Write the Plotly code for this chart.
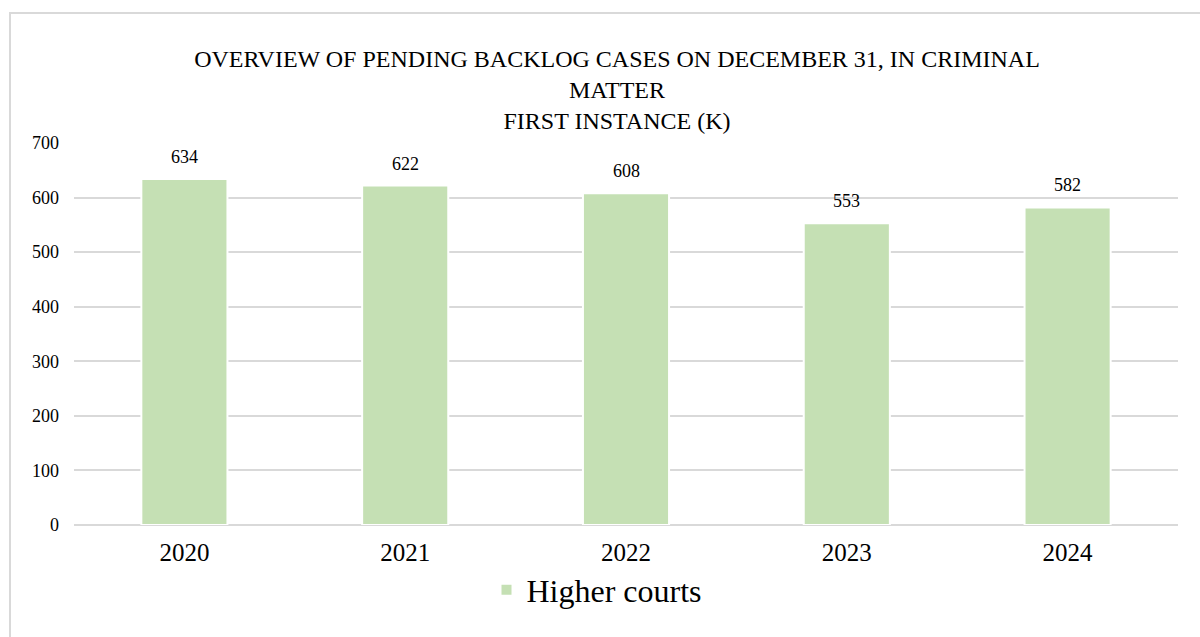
import plotly.graph_objects as go

years = ["2020", "2021", "2022", "2023", "2024"]
higher_courts = [634, 622, 608, 553, 582]
y_ticks = [0, 100, 200, 300, 400, 500, 600, 700]

W, H = 1200, 637
L, R, T, B = 74, 22, 143, 112
pw, ph = W - L - R, H - T - B

fig = go.Figure()
fig.add_trace(go.Bar(
    x=years, y=higher_courts, name="Higher courts",
    marker=dict(color="#c5e0b4", line=dict(color="white", width=2)),
))
for i, v in enumerate(higher_courts):
    fig.add_annotation(x=i, y=v, text=str(v), showarrow=False, yanchor="bottom",
                       yshift=10, font=dict(family="Liberation Serif", size=18, color="#000"))

fig.add_shape(type="rect", xref="paper", yref="paper",
              x0=(10 - L) / pw, x1=(1210 - L) / pw,
              y0=(H - B - 650) / ph, y1=(H - B - 13) / ph,
              line=dict(color="#d9d9d9", width=2), fillcolor="rgba(0,0,0,0)", layer="below")

fig.update_layout(
    width=W, height=H,
    margin=dict(l=L, r=R, t=T, b=B, autoexpand=False),
    paper_bgcolor="white", plot_bgcolor="white",
    font=dict(family="Liberation Serif", color="#000"),
    title=dict(text="OVERVIEW OF PENDING BACKLOG CASES ON DECEMBER 31, IN CRIMINAL<br>MATTER<br>FIRST INSTANCE (K)",
               x=617 / W, xanchor="center", y=1 - 67 / H, yanchor="top",
               font=dict(family="Liberation Serif", size=24, color="#000")),
    bargap=0.61,
    showlegend=True,
    legend=dict(orientation="h", x=(597 - L) / pw, xanchor="center", y=(H - B - 590) / ph, yanchor="middle",
                font=dict(family="Liberation Serif", size=32, color="#000")),
    xaxis=dict(type="category", showgrid=False, showline=False, ticks="", tickfont=dict(size=25, color="#000"),
               ticklabelstandoff=10),
    yaxis=dict(range=[0, 700], tickvals=y_ticks, showgrid=True, gridcolor="#d9d9d9", gridwidth=2,
               zeroline=True, zerolinecolor="#d9d9d9", zerolinewidth=2,
               ticks="", ticklen=0, tickfont=dict(size=18, color="#000"), ticklabelstandoff=14),
)
fig.write_html("out.html", config={"displayModeBar": False},
               post_script="document.body.style.margin='0';")
